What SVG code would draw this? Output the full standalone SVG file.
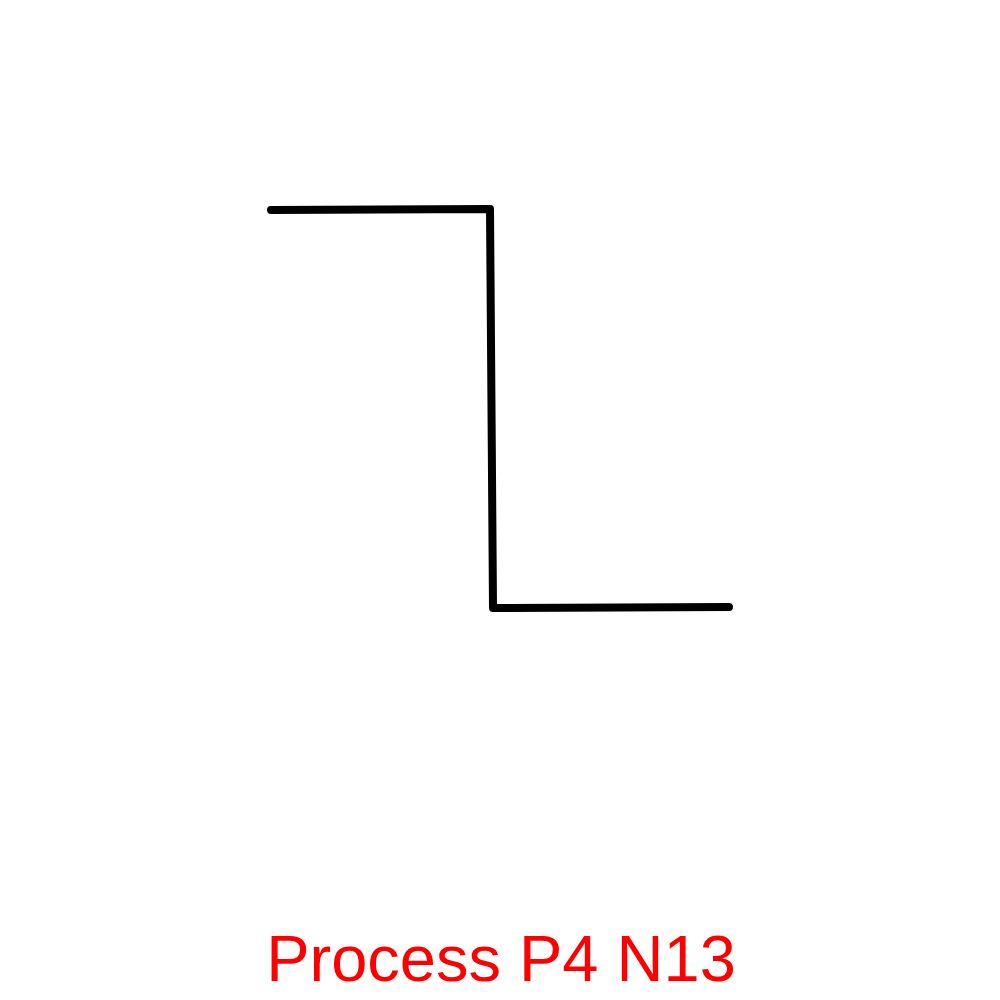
<svg xmlns="http://www.w3.org/2000/svg" width="1000" height="1000" viewBox="0 0 1000 1000">
<style>
.conn{fill:none;stroke:#000;stroke-width:8;stroke-linecap:round;stroke-linejoin:round}
.label{font-family:"Liberation Sans",Arial,sans-serif;font-size:65px;fill:#ff0000;text-anchor:middle}
</style>
<rect width="1000" height="1000" fill="#fff"/>
<g id="connectors">
<polyline class="conn" points="271,210 490,209 493,608 729,607"/>
</g>
<g id="title">
<text class="label" x="501" y="981">Process P4 N13</text>
</g>
</svg>
